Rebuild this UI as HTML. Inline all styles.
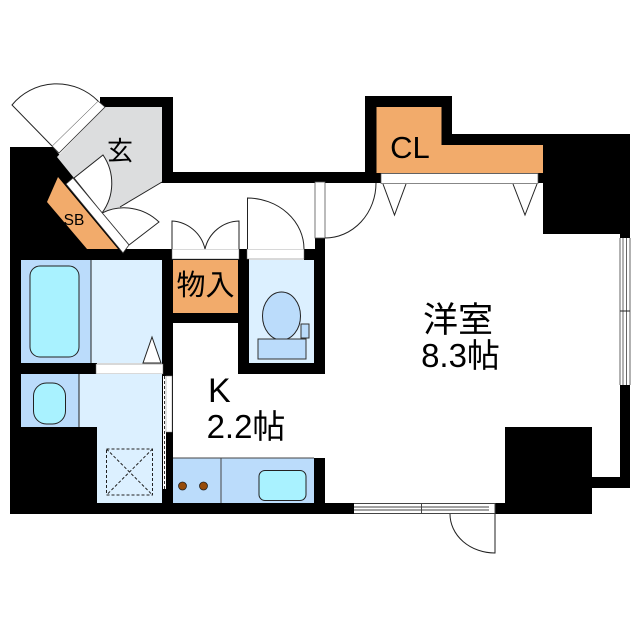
<!DOCTYPE html>
<html><head><meta charset="utf-8"><style>html,body{margin:0;padding:0;background:#fff}svg{display:block}text{font-family:"Liberation Sans","Noto Sans CJK JP",sans-serif;fill:#000}</style></head><body>
<svg width="640" height="640" viewBox="0 0 640 640" xmlns="http://www.w3.org/2000/svg">
<rect width="640" height="640" fill="#fff"/>
<!-- black structure -->
<g fill="#000">
<path d="M100 97H173V183H100Z"/>
<path d="M10 147H53L110 215L130 260H10Z"/>
<rect x="10" y="147" width="11" height="367"/>
<rect x="10" y="249" width="163" height="11"/>
<rect x="173" y="172" width="205" height="11"/>
<path d="M365 96H452V134H630V234H543V183H365Z"/>
<rect x="620" y="134" width="10" height="104"/>
<rect x="620" y="385" width="10" height="103"/>
<rect x="592" y="477" width="38" height="11"/>
<rect x="505" y="427" width="87" height="87"/>
<rect x="10" y="503" width="495" height="11"/>
<rect x="21" y="427" width="76" height="76"/>
<rect x="21" y="363" width="76" height="11"/>
<rect x="162" y="260" width="11" height="243"/>
<rect x="173" y="249" width="75" height="11"/>
<rect x="173" y="313" width="75" height="10"/>
<rect x="238" y="249" width="11" height="125"/>
<rect x="238" y="363" width="87" height="11"/>
<rect x="304" y="249" width="21" height="11"/>
<rect x="314" y="238" width="11" height="136"/>
<rect x="314" y="458" width="11" height="50"/>
</g>
<!-- entry -->
<path d="M105 107H162V182L120 207L102 213L74 178L57 157Z" fill="#dcddde"/>
<path d="M162 183H315V249H130L102 213L120 207L162 183Z" fill="#fff"/>
<path d="M162 182L120 207" stroke="#222" stroke-width="1" fill="none"/>
<path d="M162 172H173V183H162Z" fill="#000"/>
<path d="M52 146L98 101L105 107L59 153Z" fill="#fff" stroke="#333" stroke-width="0.8"/>
<path d="M52 146L12 105A58 58 0 0 1 98 101" fill="#fff" stroke="#222" stroke-width="1"/>
<path d="M74 178L103 155A50 50 0 0 1 102 213Z" fill="#fff" stroke="#222" stroke-width="1"/>
<path d="M129 245L159 222A50 50 0 0 0 102 213Z" fill="#fff" stroke="#222" stroke-width="1"/>
<!-- SB -->
<path d="M58 177L47 202L87 249H118Z" fill="#f2ab6b"/>
<path d="M66 184L73 178L129 245L123 253Z" fill="#fff" stroke="#333" stroke-width="0.8"/>
<text x="74" y="225" font-size="15.500" text-anchor="middle">SB</text>
<text x="120" y="160" font-size="26" text-anchor="middle">玄</text>
<!-- bath -->
<rect x="21" y="260" width="70" height="103" fill="#bbdcfb"/>
<rect x="91" y="260" width="71" height="103" fill="#dcf0ff"/>
<path d="M91 260V363" stroke="#222" stroke-width="1"/>
<rect x="30" y="266" width="49" height="91" rx="10" fill="#a9f2ff" stroke="#222" stroke-width="1"/>
<path d="M143 363L152 337L161 363Z" fill="#fff" stroke="#222" stroke-width="1"/>
<rect x="96" y="364" width="67" height="10" fill="#fff" stroke="#666" stroke-width="0.5"/>
<!-- wash -->
<rect x="21" y="374" width="58" height="53" fill="#bbdcfb"/>
<path d="M79 374H162V503H97V427H79Z" fill="#dcf0ff"/>
<path d="M79 374V427" stroke="#222" stroke-width="1"/>
<rect x="33.500" y="383" width="32" height="41" rx="13" fill="#a9f2ff" stroke="#222" stroke-width="1"/>
<g fill="none" stroke="#222" stroke-width="1" stroke-dasharray="3 2">
<rect x="106.500" y="449" width="46" height="46"/>
<path d="M106.500 449L152.500 495M152.500 449L106.500 495"/>
</g>
<!-- sliding -->
<rect x="163" y="376" width="3" height="113" fill="#fff"/>
<path d="M164.500 376V489" stroke="#333" stroke-width="1" stroke-dasharray="3 2"/>
<rect x="166" y="376" width="6" height="56" fill="#fff" stroke="#888" stroke-width="0.5"/>
<!-- K room white area -->
<rect x="173" y="323" width="65" height="51" fill="#fff"/>
<rect x="173" y="374" width="141" height="84" fill="#fff"/>
<!-- storage -->
<rect x="173" y="260" width="65" height="53" fill="#f2ab6b"/>
<rect x="172" y="249" width="67" height="10" fill="#fff" stroke="#666" stroke-width="0.5"/>
<path d="M172 249V221A36 36 0 0 1 205 249A36 36 0 0 1 239 221V249" fill="#fff" stroke="#222" stroke-width="1"/>
<text x="205.500" y="295" font-size="29" text-anchor="middle">物入</text>
<!-- toilet -->
<rect x="249" y="260" width="65" height="103" fill="#dcf0ff"/>
<rect x="247" y="249" width="57" height="10" fill="#fff" stroke="#666" stroke-width="0.5"/>
<path d="M247.500 249V198A57 51 0 0 1 304 249" fill="#fff" stroke="#222" stroke-width="1"/>
<ellipse cx="281.500" cy="316" rx="19" ry="24" fill="#bbdcfb" stroke="#222" stroke-width="1"/>
<rect x="258" y="339" width="48" height="20" fill="#bbdcfb" stroke="#333" stroke-width="1"/>
<rect x="301" y="324" width="8" height="14" fill="#bbdcfb" stroke="#333" stroke-width="1"/>
<!-- door to room -->
<rect x="315" y="182" width="10" height="56" fill="#fff" stroke="#555" stroke-width="0.8"/>
<path d="M325 238A51 55 0 0 0 376 183" fill="none" stroke="#222" stroke-width="1"/>
<!-- closet -->
<path d="M376.500 107H441.500V145H543V173H376.500Z" fill="#f2ab6b"/>
<rect x="381" y="173.500" width="157" height="10" fill="#fff" stroke="#555" stroke-width="0.7"/>
<path d="M383 184L394.500 215L406 184M513 184L525 215L537 184" fill="#fff" stroke="#222" stroke-width="1"/>
<text x="410" y="158" font-size="31" text-anchor="middle">CL</text>
<!-- window right -->
<rect x="620" y="238" width="10" height="147" fill="#fff"/>
<path d="M620 238V385M623 238V385M626.500 238V385M630 238V385" stroke="#666" stroke-width="1"/>
<path d="M620 311H630" stroke="#222" stroke-width="1"/>
<!-- kitchen -->
<rect x="173" y="458" width="141" height="45" fill="#bbdcfb"/>
<path d="M173 458H314M221 458V503" stroke="#444" stroke-width="1" fill="none"/>
<rect x="259" y="470.500" width="47" height="30" rx="6" fill="#a9f2ff" stroke="#222" stroke-width="1"/>
<circle cx="182.500" cy="486" r="4" fill="#964b0a" stroke="#222" stroke-width="0.8"/>
<circle cx="203.500" cy="486" r="4" fill="#964b0a" stroke="#222" stroke-width="0.8"/>
<!-- bottom window -->
<rect x="354" y="503" width="141" height="11" fill="#fff"/>
<path d="M354 503.500H495M354 507H489M354 510H489M354 513.500H495M421.500 503V514M495 503V514" stroke="#444" stroke-width="1" fill="none"/>
<path d="M450 514A45 39 0 0 0 495 553V514" fill="none" stroke="#222" stroke-width="1"/>
<!-- labels -->
<text x="458" y="332" font-size="35" text-anchor="middle">洋室</text>
<text x="460.500" y="367" font-size="33" text-anchor="middle">8.3帖</text>
<text x="208" y="402" font-size="34" stroke="none">K</text>
<text x="246" y="438" font-size="33" text-anchor="middle">2.2帖</text>
</svg>
</body></html>
